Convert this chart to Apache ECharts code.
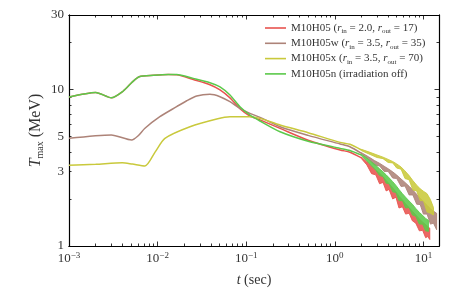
<!DOCTYPE html>
<html>
<head>
<meta charset="utf-8">
<script src="https://cdn.jsdelivr.net/npm/echarts@6/dist/echarts.min.js"></script>
<style>html,body{margin:0;padding:0;background:#fff}#c{width:463px;height:290px}</style>
</head>
<body>
<div id="c"></div>
<script>
// ---------- data ----------
const seriesNames = ['M10H05', 'M10H05w', 'M10H05x', 'M10H05n'];
const legendLabels = [
  'M10H05 ({i|r}{s|in} = 2.0, {i|r}{s|out} = 17)',
  'M10H05w ({i|r}{s|in} = 3.5, {i|r}{s|out} = 35)',
  'M10H05x ({i|r}{s|in} = 3.5, {i|r}{s|out} = 70)',
  'M10H05n (irradiation off)'
];

const redT   = [0.001, 0.002, 0.003, 0.0041, 0.0052, 0.0062, 0.009, 0.0132, 0.0164, 0.0253, 0.039, 0.0506, 0.0656, 0.085, 0.11, 0.143, 0.241, 0.5, 1.15, 1.48, 2.0];
const redV   = [8.97, 9.6, 8.87, 9.8, 11.2, 12.1, 12.35, 12.5, 12.45, 11.6, 10.75, 9.95, 8.85, 7.55, 6.78, 6.4, 5.65, 4.75, 4.11, 3.98, 3.66];
const brownT = [0.001, 0.003, 0.0051, 0.006, 0.0072, 0.0106, 0.0164, 0.0213, 0.0276, 0.039, 0.0506, 0.0656, 0.085, 0.11, 0.143, 0.241, 0.5, 1.15, 1.48, 2.0];
const brownV = [4.88, 5.13, 4.76, 5.05, 5.66, 6.71, 7.78, 8.49, 9.1, 9.33, 9.01, 8.37, 7.59, 7.05, 6.65, 5.79, 5.1, 4.49, 4.31, 3.91];
const yellowT = [0.001, 0.002, 0.004, 0.0052, 0.0072, 0.0094, 0.0121, 0.0232, 0.0465, 0.0656, 0.11, 0.143, 0.241, 0.5, 1.15, 1.48, 2.0];
const yellowV = [3.28, 3.33, 3.41, 3.34, 3.25, 4.0, 4.88, 5.79, 6.49, 6.71, 6.71, 6.55, 5.94, 5.3, 4.6, 4.47, 4.11];
const greenT = [0.001, 0.002, 0.003, 0.0041, 0.0052, 0.0062, 0.009, 0.0132, 0.0164, 0.0253, 0.039, 0.0506, 0.0656, 0.085, 0.11, 0.143, 0.241, 0.5, 1.15, 1.48, 2.0];
const greenV = [8.97, 9.6, 8.87, 9.8, 11.2, 12.1, 12.35, 12.5, 12.5, 11.8, 11.07, 10.4, 9.23, 7.78, 6.88, 6.3, 5.38, 4.68, 4.21, 4.08, 3.81];

// noisy tails: upper / lower envelopes
const redBandT   = [2.0, 2.3, 2.6, 2.9, 3.2, 3.5, 3.8, 4.1, 4.5, 4.9, 5.3, 5.8, 6.3, 6.9, 7.5, 8.2, 9.0, 9.8, 10.6, 11.2, 11.8];
const redUpper   = [3.7, 3.45, 3.25, 3.05, 2.92, 2.78, 2.62, 2.5, 2.35, 2.22, 2.08, 1.97, 1.86, 1.76, 1.67, 1.58, 1.49, 1.42, 1.37, 1.33, 1.3];
const redLower   = [3.62, 3.3, 2.9, 2.85, 2.5, 2.55, 2.25, 2.3, 2.0, 2.05, 1.75, 1.78, 1.6, 1.62, 1.45, 1.4, 1.25, 1.26, 1.13, 1.15, 1.1];
const greenBandT = [2.0, 2.3, 2.6, 2.9, 3.2, 3.5, 3.8, 4.1, 4.5, 4.9, 5.3, 5.8, 6.3, 6.9, 7.5, 8.2, 9.0, 9.8, 10.6, 11.4];
const greenUpper = [3.85, 3.65, 3.45, 3.28, 3.12, 2.98, 2.85, 2.73, 2.58, 2.44, 2.3, 2.16, 2.05, 1.94, 1.85, 1.74, 1.64, 1.57, 1.5, 1.46];
const greenLower = [3.77, 3.5, 3.25, 3.05, 2.82, 2.78, 2.52, 2.5, 2.22, 2.2, 1.95, 1.95, 1.75, 1.76, 1.58, 1.55, 1.38, 1.38, 1.25, 1.24];
const brownBandT = [2.0, 2.4, 2.8, 3.2, 3.6, 4.0, 4.5, 5.0, 5.6, 6.2, 6.9, 7.6, 8.4, 9.2, 10.0, 11.0, 12.0, 13.0, 14.1];
const brownUpper = [3.95, 3.72, 3.52, 3.38, 3.24, 3.12, 2.98, 2.84, 2.68, 2.55, 2.41, 2.28, 2.14, 2.02, 1.92, 1.82, 1.73, 1.67, 1.62];
const brownLower = [3.87, 3.6, 3.3, 3.25, 3.0, 3.0, 2.72, 2.7, 2.4, 2.42, 2.12, 2.12, 1.85, 1.84, 1.6, 1.6, 1.38, 1.4, 1.27];
const yellowBandT = [2.0, 2.5, 3.0, 3.5, 4.0, 4.5, 5.0, 5.6, 6.2, 6.9, 7.6, 8.4, 9.2, 10.0, 11.0, 12.0, 13.0];
const yellowUpper = [4.15, 3.97, 3.82, 3.7, 3.58, 3.47, 3.35, 3.2, 3.02, 2.82, 2.62, 2.45, 2.32, 2.24, 2.16, 1.98, 1.76];
const yellowLower = [4.07, 3.85, 3.68, 3.62, 3.42, 3.4, 3.15, 3.1, 2.7, 2.65, 2.28, 2.25, 1.95, 1.95, 1.65, 1.62, 1.58];

// ticks
const xMajorTicks = [0.001, 0.01, 0.1, 1, 10];
const xMinorTicks = [0.002,0.003,0.004,0.005,0.006,0.007,0.008,0.009,0.02,0.03,0.04,0.05,0.06,0.07,0.08,0.09,0.2,0.3,0.4,0.5,0.6,0.7,0.8,0.9,2,3,4,5,6,7,8,9];
const yMajorTicks = [1, 10];
const yMinorTicks = [2,3,4,5,6,7,8,9,20,30];
const yTickLabels = [1, 3, 5, 10, 30];

// ---------- chart ----------
const FONT = 'Liberation Serif';
const colors = ['#e8534f', '#ad8378', '#c9c93c', '#5bc94a'];
const zip = (a, b) => a.map((v, i) => [v, b[i]]);

function bandSeries(color, ts, up, lo) {
  return {
    type: 'custom', name: '_band', xAxisIndex: 0, yAxisIndex: 0, silent: true,
    data: [[1, 5]], z: 3,
    renderItem: function (params, api) {
      const pts = [];
      for (let i = 0; i < ts.length; i++) pts.push(api.coord([ts[i], up[i]]));
      for (let i = ts.length - 1; i >= 0; i--) pts.push(api.coord([ts[i], lo[i]]));
      return { type: 'polygon', shape: { points: pts }, style: { fill: color, stroke: color, lineWidth: 1, opacity: 0.88 } };
    }
  };
}

const axisLineStyle = { show: true, lineStyle: { color: '#000', width: 1.1 } };
function xAx(pos, ticks, len, labels) {
  return {
    type: 'log', logBase: 10, min: 0.001, max: 15, position: pos,
    axisLine: axisLineStyle, splitLine: { show: false },
    axisTick: { show: true, inside: true, length: len, customValues: ticks, lineStyle: { color: '#000', width: 0.8 } },
    axisLabel: labels ? {
      show: true, margin: 5, customValues: xMajorTicks,
      formatter: function (v) { const e = Math.round(Math.log10(v)); return '{b|10}{s|' + (e < 0 ? '\u2212' + (-e) : e) + '}'; },
      rich: { b: { fontFamily: FONT, fontSize: 13, color: '#333', lineHeight: 15 }, s: { fontFamily: FONT, fontSize: 9, color: '#333', lineHeight: 9, verticalAlign: 'top' } }
    } : { show: false }
  };
}
function yAx(pos, ticks, len, labels) {
  return {
    type: 'log', logBase: 10, min: 1, max: 30, position: pos,
    axisLine: axisLineStyle, splitLine: { show: false },
    axisTick: { show: true, inside: true, length: len, customValues: ticks, lineStyle: { color: '#000', width: 0.8 } },
    axisLabel: labels ? {
      show: true, margin: 5, customValues: yTickLabels, fontFamily: FONT, fontSize: 13, color: '#333',
      formatter: function (v) { return String(Math.round(v)); }
    } : { show: false }
  };
}

const xAxes = [xAx('bottom', xMajorTicks, 4.5, true), xAx('bottom', xMinorTicks, 2.5, false), xAx('top', xMajorTicks, 4.5, false), xAx('top', xMinorTicks, 2.5, false)];
const yAxes = [yAx('left', yMajorTicks, 4.5, true), yAx('left', yMinorTicks, 2.5, false), yAx('right', yMajorTicks, 4.5, false), yAx('right', yMinorTicks, 2.5, false)];
xAxes[0].name = '{i|t} (sec)';
xAxes[0].nameLocation = 'middle';
xAxes[0].nameGap = 27;
xAxes[0].nameTextStyle = { fontFamily: FONT, fontSize: 14, color: '#333', rich: { i: { fontFamily: FONT, fontStyle: 'italic', fontSize: 14, color: '#333' } } };
yAxes[0].name = '{i|T}{s|max} (MeV)';
yAxes[0].nameLocation = 'middle';
yAxes[0].nameGap = 24;
yAxes[0].nameMoveOverlap = false;
yAxes[0].nameRotate = 90;
yAxes[0].nameTextStyle = { fontFamily: FONT, fontSize: 16, color: '#333', lineHeight: 18, rich: {
  i: { fontFamily: FONT, fontStyle: 'italic', fontSize: 16, color: '#333', lineHeight: 18 },
  s: { fontFamily: FONT, fontSize: 10, color: '#333', lineHeight: 10, verticalAlign: 'bottom' } } };

function lineSeries(i, ts, vs) {
  return {
    type: 'line', name: seriesNames[i], data: zip(ts, vs), xAxisIndex: 0, yAxisIndex: 0,
    showSymbol: false, symbol: 'none', smooth: 0.25, z: 4,
    lineStyle: { color: colors[i], width: 1.5 }, itemStyle: { color: colors[i] }
  };
}

const chart = echarts.init(document.getElementById('c'), null, { renderer: 'canvas' });
chart.setOption({
  animation: false,
  backgroundColor: '#fff',
  grid: { left: 69, right: 24, top: 15, bottom: 44, containLabel: false, outerBoundsMode: 'none' },
  xAxis: xAxes,
  yAxis: yAxes,
  legend: {
    data: seriesNames.map((n, i) => ({ name: n, icon: 'rect', itemStyle: { color: colors[i] } })),
    orient: 'vertical', left: 265, top: 21, padding: 0,
    itemWidth: 21, itemHeight: 1.6, itemGap: 1.3, selectedMode: false,
    formatter: function (name) { return legendLabels[seriesNames.indexOf(name)]; },
    textStyle: { fontFamily: FONT, fontSize: 11, color: '#333', lineHeight: 14, rich: {
      i: { fontFamily: FONT, fontStyle: 'italic', fontSize: 11, color: '#333', lineHeight: 14 },
      s: { fontFamily: FONT, fontSize: 7, color: '#333', lineHeight: 9, verticalAlign: 'bottom' } } }
  },
  series: [
    bandSeries(colors[0], redBandT, redUpper, redLower),
    bandSeries(colors[1], brownBandT, brownUpper, brownLower),
    bandSeries(colors[2], yellowBandT, yellowUpper, yellowLower),
    bandSeries(colors[3], greenBandT, greenUpper, greenLower),
    lineSeries(0, redT, redV),
    lineSeries(1, brownT, brownV),
    lineSeries(2, yellowT, yellowV),
    lineSeries(3, greenT, greenV)
  ]
});
</script>
</body>
</html>
